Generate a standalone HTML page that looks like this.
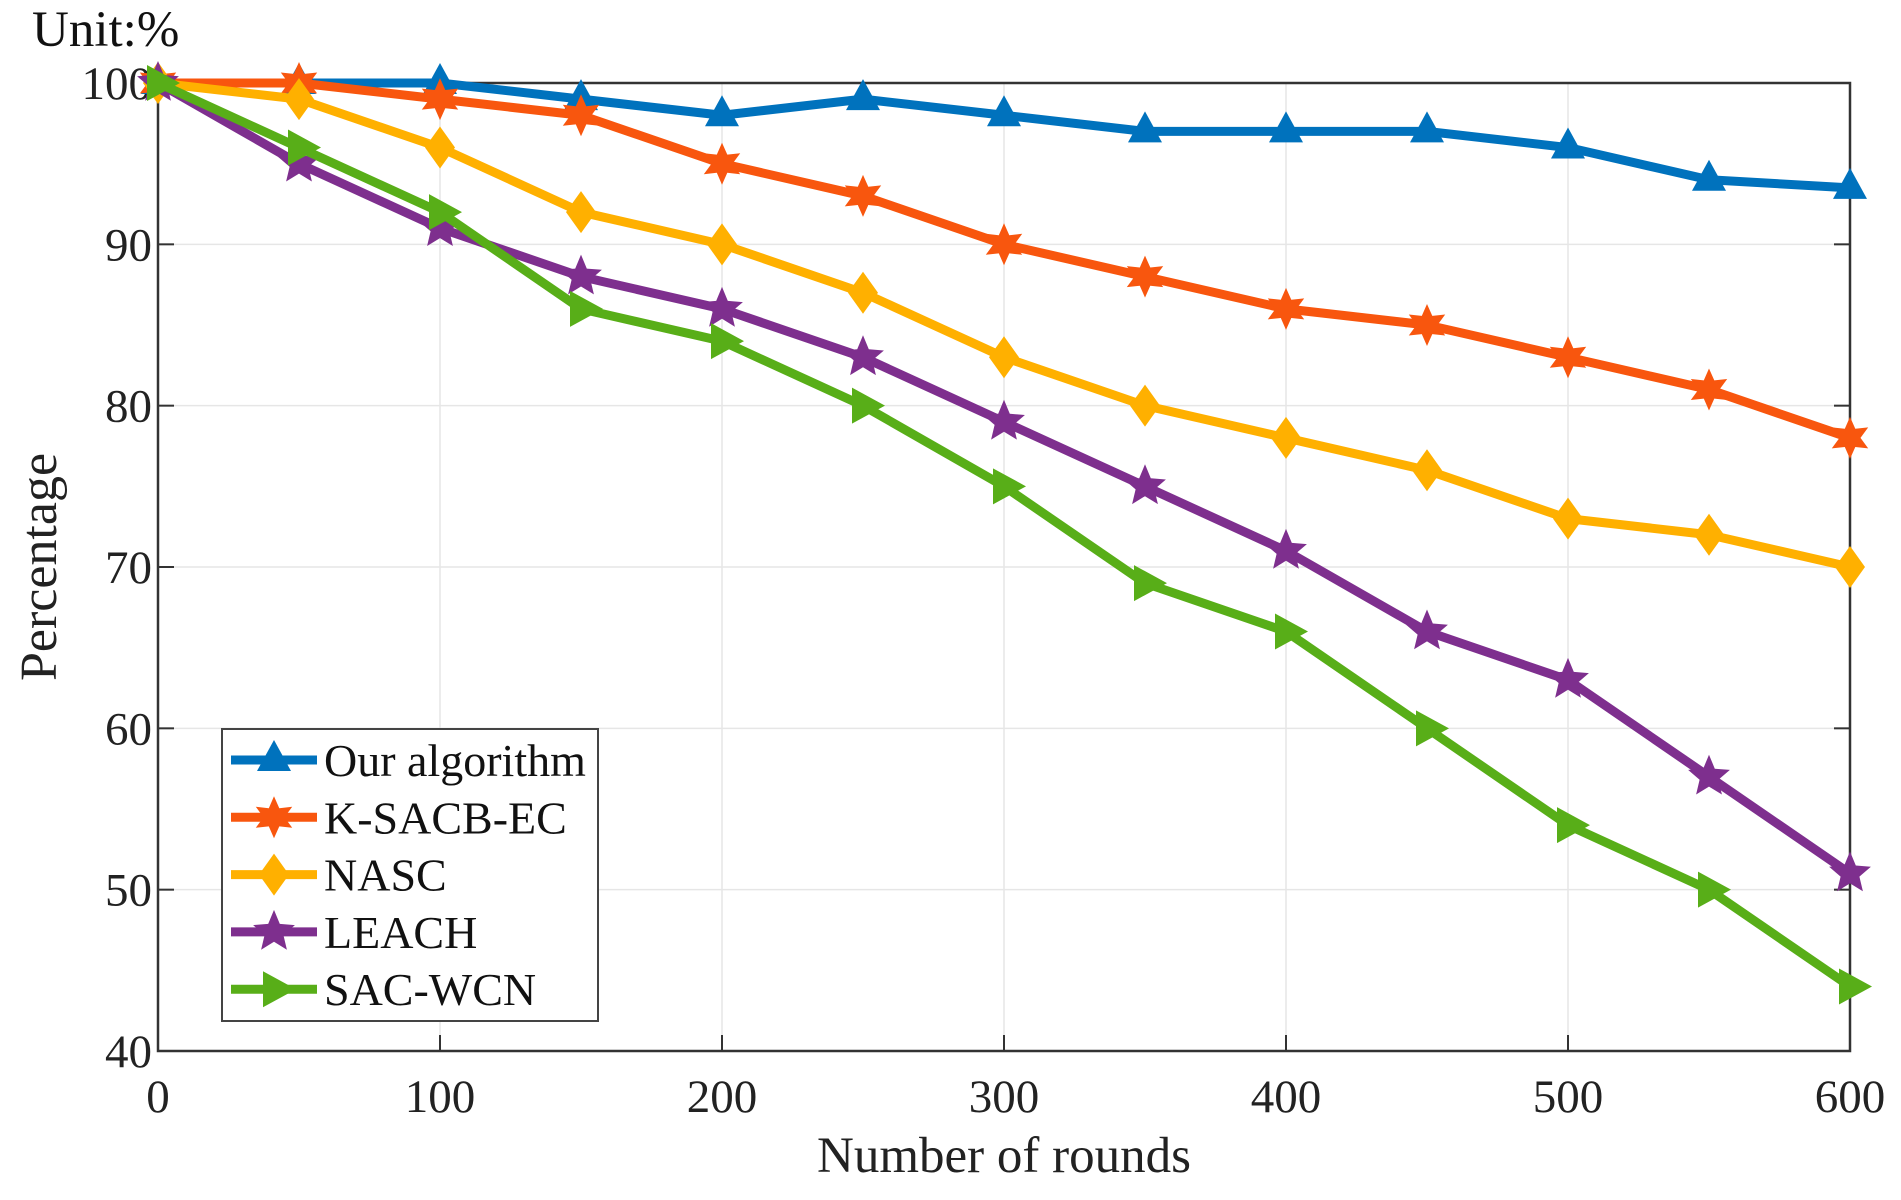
<!DOCTYPE html>
<html><head><meta charset="utf-8"><style>
html,body{margin:0;padding:0;background:#fff;}
svg{display:block;font-family:"Liberation Serif",serif;}
</style></head><body>
<svg id="chart" width="1901" height="1200" viewBox="0 0 1901 1200" xmlns="http://www.w3.org/2000/svg">
<rect width="1901" height="1200" fill="#fff"/>
<g id="grid"></g><g id="axes"></g><g id="series"></g><g id="legend"></g>
<text x="32" y="46" font-size="51" fill="#111">Unit:%</text>
<text x="1004" y="1172" font-size="51" text-anchor="middle" fill="#222">Number of rounds</text>
<text transform="translate(56,567) rotate(-90)" font-size="52" text-anchor="middle" fill="#222">Percentage</text>
</svg>
<script>
const rounds=[0,50,100,150,200,250,300,350,400,450,500,550,600];
const seriesNames=["Our algorithm","K-SACB-EC","NASC","LEACH","SAC-WCN"];
const ourAlgorithm=[100,100,100,99,98,99,98,97,97,97,96,94,93.5];
const kSacbEc=[100,100,99,98,95,93,90,88,86,85,83,81,78];
const nasc=[100,99,96,92,90,87,83,80,78,76,73,72,70];
const leach=[100,95,91,88,86,83,79,75,71,66,63,57,51];
const sacWcn=[100,96,92,86,84,80,75,69,66,60,54,50,44];
const xTicks=[0,100,200,300,400,500,600];
const yTicks=[40,50,60,70,80,90,100];

const NS="http://www.w3.org/2000/svg";
const L=158,R=1850,T=83,B=1051;
const xS=v=>L+(v-0)/600*(R-L);
const yS=v=>B-(v-40)/60*(B-T);
function mk(tag,attrs,parent){const e=document.createElementNS(NS,tag);for(const k in attrs)e.setAttribute(k,attrs[k]);parent.appendChild(e);return e;}
const grid=document.getElementById('grid'),axes=document.getElementById('axes'),ser=document.getElementById('series'),leg=document.getElementById('legend');

xTicks.forEach(t=>{
 const g=mk('line',{x1:xS(t),x2:xS(t),y1:T,y2:B,stroke:'#e6e6e6','stroke-width':1.5},grid);
 
 
 const tk=mk('line',{x1:xS(t),x2:xS(t),y1:B,y2:B-16,stroke:'#333','stroke-width':2},axes);
 
 
 const tx=mk('text',{x:xS(t),y:1112,'font-size':47,'text-anchor':'middle',fill:'#222'},axes);
 tx.textContent=t;
 
 
});
yTicks.forEach(t=>{
 const g=mk('line',{x1:L,x2:R,y1:yS(t),y2:yS(t),stroke:'#e6e6e6','stroke-width':1.5},grid);
 
 
 const tk=mk('line',{x1:L,x2:L+16,y1:yS(t),y2:yS(t),stroke:'#333','stroke-width':2},axes);
 
 
 const tk2=mk('line',{x1:R,x2:R-16,y1:yS(t),y2:yS(t),stroke:'#333','stroke-width':2},axes);
 
 
 const tx=mk('text',{x:L-6,y:yS(t)+16,'font-size':47,'text-anchor':'end',fill:'#222'},axes);
 tx.textContent=t;
 
 
});
const box=mk('rect',{x:L,y:T,width:R-L,height:B-T,fill:'none',stroke:'#333','stroke-width':2.5},axes);



function star(cx,cy,r){let p=[];for(let i=0;i<10;i++){const a=-Math.PI/2+i*Math.PI/5;const rr=i%2?r*0.45:r;p.push((cx+rr*Math.cos(a)).toFixed(1)+','+(cy+rr*Math.sin(a)).toFixed(1));}return p.join(' ');}
function hex(cx,cy,r){let p=[];for(let i=0;i<12;i++){const a=-Math.PI/2+i*Math.PI/6;const rr=i%2?r*0.5:r;p.push((cx+rr*Math.cos(a)).toFixed(1)+','+(cy+rr*Math.sin(a)).toFixed(1));}return p.join(' ');}
function marker(kind,cx,cy,color,parent){
 let pts;
 if(kind==='up')pts=`${cx},${cy-20} ${cx+17},${cy+11} ${cx-17},${cy+11}`;
 else if(kind==='hex')pts=hex(cx,cy,21);
 else if(kind==='diamond')pts=`${cx},${cy-21} ${cx+15},${cy} ${cx},${cy+21} ${cx-15},${cy}`;
 else if(kind==='star')pts=star(cx,cy,22);
 else pts=`${cx+22},${cy} ${cx-11},${cy-18} ${cx-11},${cy+18}`;
 return mk('polygon',{points:pts,fill:color},parent);
}
const all=[ourAlgorithm,kSacbEc,nasc,leach,sacWcn];
const colors=['#0072BD','#F8560E','#FFB000','#7E2F8E','#58AE18'];
const kinds=['up','hex','diamond','star','right'];
const keys=['our-algorithm','k-sacb-ec','nasc','leach','sac-wcn'];
all.forEach((vals,si)=>{
 const g=mk('g',{},ser);
 
 
 const pl=mk('polyline',{points:vals.map((v,i)=>xS(rounds[i])+','+yS(v)).join(' '),fill:'none',stroke:colors[si],'stroke-width':9,'stroke-linejoin':'round'},g);
 
 
 vals.forEach((v,i)=>{
  const m=marker(kinds[si],xS(rounds[i]),yS(v),colors[si],g);
  
  
 });
});
const lb=mk('rect',{x:222,y:729,width:376,height:292,fill:'#fff',stroke:'#444','stroke-width':2},leg);


seriesNames.forEach((n,i)=>{
 const cy=760+i*57.3;
 const g=mk('g',{},leg);
 
 
 mk('line',{x1:231,x2:317,y1:cy,y2:cy,stroke:colors[i],'stroke-width':9},g);
 marker(kinds[i],274,cy,colors[i],g);
 const t=mk('text',{x:324,y:cy+16,'font-size':46,fill:'#111'},g);
 t.textContent=n;
});
</script>
</body></html>
